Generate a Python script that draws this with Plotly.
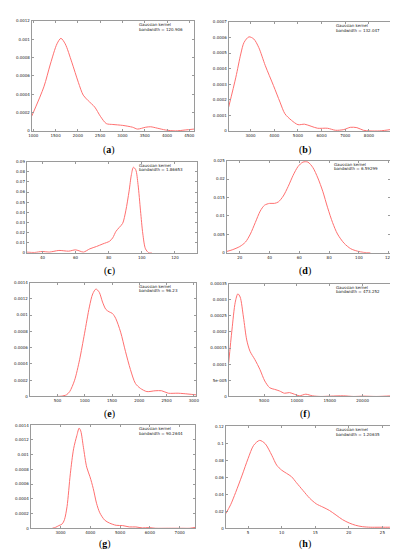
import plotly.graph_objects as go

W, H = 398, 550

# ---------- data ----------
a_x = [963, 1236, 1383, 1531, 1619, 1715, 1863, 2010, 2120, 2231, 2378, 2504, 2637, 2785, 3006, 3227, 3338, 3522, 3633, 3780, 3965, 4186, 4407, 4610]
a_y = [0.00016, 0.00048, 0.00073, 0.00095, 0.00101, 0.00095, 0.00075, 0.00053, 0.00039, 0.00033, 0.00026, 0.00016, 0.00008, 0.00007, 0.00006, 0.00004, 0.00002, 0.00004, 0.000045, 0.00003, 0.00001, 0.0, 0.00001, 0.00002]
a_xticks = [1000, 1500, 2000, 2500, 3000, 3500, 4000, 4500]
a_yticks = [0, 0.0002, 0.0004, 0.0006, 0.0008, 0.001, 0.0012]
a_ytext = ["0", "0.0002", "0.0004", "0.0006", "0.0008", "0.001", "0.0012"]

b_x = [2075, 2379, 2586, 2724, 2931, 3138, 3345, 3622, 3967, 4243, 4450, 4727, 5003, 5279, 5555, 5832, 6246, 6591, 6937, 7213, 7490, 7766, 8042, 8456, 8980]
b_y = [0.000153, 0.000345, 0.000494, 0.000568, 0.000604, 0.00059, 0.000536, 0.000419, 0.000291, 0.000185, 0.00011, 0.000068, 0.00004, 0.000043, 0.00003, 0.000017, 0.000017, 0.000004, 0.0000085, 0.000023, 0.000021, 0.000004, 0.0, 0.0, 0.00001]
b_xticks = [3000, 4000, 5000, 6000, 7000, 8000]
b_yticks = [0, 0.0001, 0.0002, 0.0003, 0.0004, 0.0005, 0.0006, 0.0007]
b_ytext = ["0", "0.0001", "0.0002", "0.0003", "0.0004", "0.0005", "0.0006", "0.0007"]

c_x = [30.5, 35.1, 40, 44, 49.9, 55.8, 60, 62.7, 64.7, 68.6, 72.6, 76.5, 80.5, 82.4, 84.4, 86.4, 88.4, 90.3, 92.3, 93.7, 94.9, 96.3, 97.7, 99.2, 100.6, 102.2, 104.2, 106]
c_y = [0.00065, 0.0003, 0.0013, 0.00065, 0.0023, 0.0016, 0.0029, 0.0016, 0.00065, 0.0039, 0.0062, 0.0088, 0.0114, 0.0147, 0.0212, 0.0251, 0.029, 0.0414, 0.0609, 0.0772, 0.0844, 0.082, 0.0674, 0.0414, 0.0186, 0.0039, 0.0, 0.0]
c_xticks = [40, 60, 80, 100, 120]
c_yticks = [0, 0.01, 0.02, 0.03, 0.04, 0.05, 0.06, 0.07, 0.08, 0.09]
c_ytext = ["0", "0.01", "0.02", "0.03", "0.04", "0.05", "0.06", "0.07", "0.08", "0.09"]

d_x = [11.2, 14.9, 20, 23.8, 27.1, 30.4, 33.7, 36.6, 40, 43.2, 45.9, 49.2, 52.5, 55.8, 59.1, 62.4, 65.7, 69.1, 72.4, 75.7, 79, 82.3, 85.6, 90, 94.5, 98.9, 103.3, 107.7]
d_y = [0.00036, 0.0008, 0.0017, 0.0029, 0.0051, 0.0082, 0.0113, 0.0129, 0.0134, 0.0134, 0.0138, 0.0154, 0.018, 0.021, 0.0234, 0.0246, 0.0246, 0.0231, 0.0203, 0.0167, 0.0122, 0.0082, 0.0051, 0.0026, 0.0011, 0.00045, 0.0001, 0.0]
d_xticks = [20, 40, 60, 80, 100, 120]
d_yticks = [0, 0.005, 0.01, 0.015, 0.02, 0.025]
d_ytext = ["0", "0.005", "0.01", "0.015", "0.02", "0.025"]

e_x = [482, 572, 663, 723, 813, 904, 994, 1084, 1145, 1205, 1265, 1325, 1386, 1446, 1506, 1566, 1657, 1747, 1837, 1928, 2018, 2139, 2289, 2410, 2530, 2711, 2892, 3042]
e_y = [0.0, 0.000004, 0.00002, 0.00006, 0.0002, 0.00045, 0.00077, 0.0011, 0.00126, 0.00132, 0.00128, 0.00116, 0.00107, 0.00104, 0.00102, 0.00096, 0.00079, 0.00055, 0.00033, 0.00016, 0.0001, 0.00006, 0.00007, 0.00007, 0.00004, 0.00004, 0.00003, 0.00002]
e_xticks = [500, 1000, 1500, 2000, 2500, 3000]
e_yticks = [0, 0.0002, 0.0004, 0.0006, 0.0008, 0.001, 0.0012, 0.0014]
e_ytext = ["0", "0.0002", "0.0004", "0.0006", "0.0008", "0.001", "0.0012", "0.0014"]

f_x = [-400, 100, 600, 1000, 1350, 1850, 2350, 2850, 3600, 4350, 5100, 5850, 6600, 7350, 8100, 8850, 9600, 10350, 11350, 12350, 13600, 15100, 17100, 18600, 20100, 22100, 24500]
f_y = [0.000104, 0.000206, 0.000292, 0.000318, 0.000308, 0.000246, 0.000175, 0.00014, 0.000114, 0.000084, 0.000048, 0.000027, 0.000022, 0.000017, 0.00001, 0.000012, 0.000007, 0.000002, 0.000007, 0.000002, 0.0, 0.000001, 0.000002, 0.0, 0.000001, 0.0, 0.000002]
f_xticks = [5000, 10000, 15000, 20000]
f_yticks = [0, 0.00005, 0.0001, 0.00015, 0.0002, 0.00025, 0.0003, 0.00035]
f_ytext = ["0", "5e-005", "0.0001", "0.00015", "0.0002", "0.00025", "0.0003", "0.00035"]

g_x = [2725, 2835, 2945, 3055, 3132, 3220, 3330, 3440, 3549, 3626, 3681, 3769, 3879, 3989, 4099, 4209, 4319, 4484, 4648, 4868, 5088, 5308, 5527, 5747, 5967, 6187, 6626, 7066, 7341, 7527]
g_y = [0.0, 0.000013, 0.000036, 0.000058, 0.000116, 0.000295, 0.00074, 0.00108, 0.00126, 0.00136, 0.00132, 0.0011, 0.00083, 0.0007, 0.00054, 0.00034, 0.00021, 0.00011, 0.00007, 0.00004, 0.000036, 0.000018, 0.000018, 0.0000045, 0.000009, 0.0, 0.0, 0.0, 0.0, 0.000013]
g_xticks = [3000, 4000, 5000, 6000, 7000]
g_yticks = [0, 0.0002, 0.0004, 0.0006, 0.0008, 0.001, 0.0012, 0.0014]
g_ytext = ["0", "0.0002", "0.0004", "0.0006", "0.0008", "0.001", "0.0012", "0.0014"]

h_x = [1.67, 2.4, 3.14, 4.12, 5, 5.83, 6.72, 7.55, 8.53, 9.26, 10, 10.74, 11.47, 12.2, 13.19, 14.17, 15.15, 16.13, 17.1, 18.1, 19.07, 20.05, 21, 22, 23.2, 24.5, 25.7, 26.6]
h_y = [0.0171, 0.0276, 0.0419, 0.0625, 0.082, 0.0975, 0.1033, 0.0994, 0.0858, 0.0742, 0.0683, 0.0645, 0.0606, 0.0536, 0.0443, 0.0353, 0.0287, 0.0249, 0.021, 0.0155, 0.0101, 0.0062, 0.0035, 0.0019, 0.0012, 0.0012, 0.0012, 0.0012]
h_xticks = [5, 10, 15, 20, 25]
h_yticks = [0, 0.02, 0.04, 0.06, 0.08, 0.1, 0.12]
h_ytext = ["0", "0.02", "0.04", "0.06", "0.08", "0.1", "0.12"]

bandwidths = ["120.906", "132.047", "1.86653", "6.59299", "96.23", "473.252", "90.2644", "1.20635"]
panel_labels = ["a", "b", "c", "d", "e", "f", "g", "h"]

# ---------- layout geometry (pixels) ----------
panels = [
    dict(x=a_x, y=a_y, xt=a_xticks, yt=a_yticks, ytt=a_ytext, xr=[963, 4610], yr=[0, 0.0012], box=(21, 186, 10, 121), lab=(100, 140)),
    dict(x=b_x, y=b_y, xt=b_xticks, yt=b_yticks, ytt=b_ytext, xr=[2075, 8980], yr=[0, 0.0007], box=(221, 387, 11, 121), lab=(298, 140)),
    dict(x=c_x, y=c_y, xt=c_xticks, yt=c_yticks, ytt=c_ytext, xr=[30.5, 133.4], yr=[0, 0.09], box=(16, 189, 152, 244), lab=(100, 262)),
    dict(x=d_x, y=d_y, xt=d_xticks, yt=d_yticks, ytt=d_ytext, xr=[11.2, 121], yr=[0, 0.025], box=(219, 385, 151, 244), lab=(298, 262)),
    dict(x=e_x, y=e_y, xt=e_xticks, yt=e_yticks, ytt=e_ytext, xr=[-10, 3042], yr=[0, 0.0014], box=(19, 188, 274, 389), lab=(100, 407)),
    dict(x=f_x, y=f_y, xt=f_xticks, yt=f_yticks, ytt=f_ytext, xr=[-400, 24500], yr=[0, 0.00035], box=(221, 387, 275, 389), lab=(298, 407)),
    dict(x=g_x, y=g_y, xt=g_xticks, yt=g_yticks, ytt=g_ytext, xr=[2000, 7520], yr=[0, 0.0014], box=(20, 187, 418, 522), lab=(95, 538)),
    dict(x=h_x, y=h_y, xt=h_xticks, yt=h_yticks, ytt=h_ytext, xr=[1.67, 26.6], yr=[0, 0.12], box=(218, 388, 419, 522), lab=(298, 538)),
]

fig = go.Figure()
annotations = []
tick_font = dict(family="DejaVu Sans", size=4, color="#222222")
line_col = "#9a9a9a"

for i, p in enumerate(panels):
    n = "" if i == 0 else str(i + 1)
    x0, x1, y0, y1 = p["box"]
    fig.add_trace(go.Scatter(
        x=p["x"], y=p["y"], mode="lines",
        line=dict(color="#ff7070", width=1, shape="spline", smoothing=0.8),
        xaxis="x" + n, yaxis="y" + n, showlegend=False, hoverinfo="skip"))
    common = dict(showgrid=False, zeroline=False, showline=True, linecolor=line_col, linewidth=1,
                  mirror="allticks", ticks="inside", ticklen=2, tickcolor=line_col, tickwidth=1,
                  tickfont=tick_font, fixedrange=True)
    fig.update_layout(**{
        "xaxis" + n: dict(domain=[x0 / W, x1 / W], range=p["xr"], anchor="y" + n,
                          tickmode="array", tickvals=p["xt"], ticktext=[str(v) for v in p["xt"]], **common),
        "yaxis" + n: dict(domain=[1 - y1 / H, 1 - y0 / H], range=p["yr"], anchor="x" + n,
                          tickmode="array", tickvals=p["yt"], ticktext=p["ytt"], **common),
    })
    # legend text (gnuplot key)
    kx = x0 + 0.645 * (x1 - x0)
    annotations.append(dict(xref="paper", yref="paper", x=kx / W, y=1 - (y0 + 3.7) / H,
                            text="Gaussian kernel", showarrow=False, xanchor="left", yanchor="middle",
                            font=dict(family="DejaVu Sans", size=4, color="#222222")))
    annotations.append(dict(xref="paper", yref="paper", x=kx / W, y=1 - (y0 + 8.2) / H,
                            text="bandwidth = " + bandwidths[i], showarrow=False, xanchor="left", yanchor="middle",
                            font=dict(family="DejaVu Sans", size=4, color="#222222")))
    lx, ly = p["lab"]
    annotations.append(dict(xref="paper", yref="paper", x=lx / W, y=1 - ly / H,
                            text="(<b>" + panel_labels[i] + "</b>)", showarrow=False,
                            xanchor="center", yanchor="middle",
                            font=dict(family="Liberation Serif", size=10, color="#000000")))

fig.update_layout(width=W, height=H, margin=dict(l=0, r=0, t=0, b=0),
                  paper_bgcolor="white", plot_bgcolor="white", annotations=annotations)
fig.write_html("out.html")
